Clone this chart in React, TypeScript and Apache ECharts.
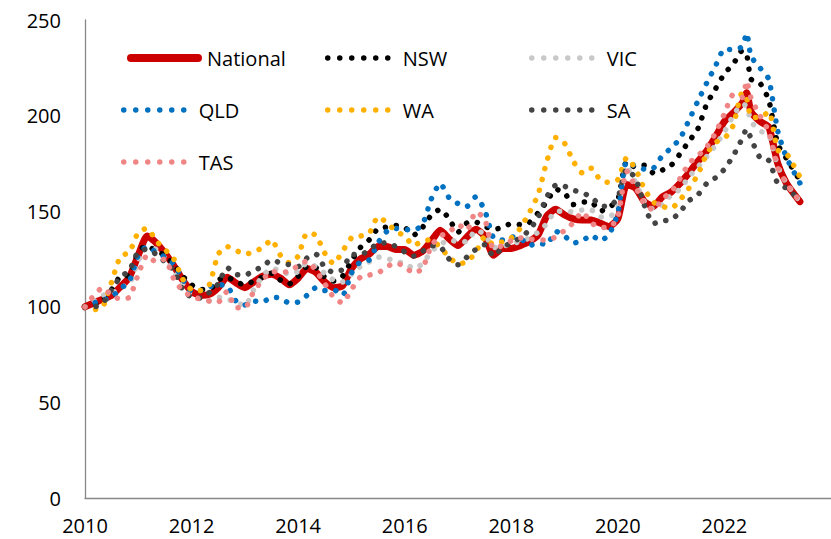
import React, { useEffect, useRef } from 'react';
import * as echarts from 'echarts';

// Observation dates (bi-monthly, plus June 2022 and June 2023)
const months: string[] = [
  '2010-01', '2010-03', '2010-05', '2010-07', '2010-09', '2010-11',
  '2011-01', '2011-03', '2011-05', '2011-07', '2011-09', '2011-11',
  '2012-01', '2012-03', '2012-05', '2012-07', '2012-09', '2012-11',
  '2013-01', '2013-03', '2013-05', '2013-07', '2013-09', '2013-11',
  '2014-01', '2014-03', '2014-05', '2014-07', '2014-09', '2014-11',
  '2015-01', '2015-03', '2015-05', '2015-07', '2015-09', '2015-11',
  '2016-01', '2016-03', '2016-05', '2016-07', '2016-09', '2016-11',
  '2017-01', '2017-03', '2017-05', '2017-07', '2017-09', '2017-11',
  '2018-01', '2018-03', '2018-05', '2018-07', '2018-09', '2018-11',
  '2019-01', '2019-03', '2019-05', '2019-07', '2019-09', '2019-11',
  '2020-01', '2020-03', '2020-05', '2020-07', '2020-09', '2020-11',
  '2021-01', '2021-03', '2021-05', '2021-07', '2021-09', '2021-11',
  '2022-01', '2022-03', '2022-05', '2022-06', '2022-07', '2022-09', '2022-11',
  '2023-01', '2023-03', '2023-06',
];

const national: number[] = [
  100, 102, 104, 106, 110.5, 115.5,
  127, 137, 133.5, 128, 121.5, 114,
  108, 106, 106.5, 110, 115.5, 112.5,
  110, 113, 116, 117, 115, 111.5,
  115, 120, 118, 113, 110, 111,
  120, 125, 127.5, 131.5, 131.5, 130,
  130, 127, 129, 134.5, 140, 135.5,
  132, 136.5, 140.5, 137, 127, 130.5,
  130.5, 132, 134, 137.5, 147.5, 151,
  148, 146, 145.4, 145.4, 143.8, 142,
  146, 164, 162, 155, 152.5, 157.5,
  160, 164.5, 170, 176, 181.5, 189,
  197, 201.5, 206.5, 212, 202, 197, 194,
  175, 164.5, 155,
];

const nsw: number[] = [
  100, 101, 104, 109, 116, 116.5,
  129, 132, 129, 127, 122, 116,
  111.5, 109, 109, 114, 115.5, 113,
  111.5, 113.5, 115.5, 117.5, 114, 112,
  116, 121, 120.5, 115.5, 113.5, 116,
  124, 131, 135, 141, 141.7, 142.5,
  141.5, 137.5, 141.5, 148, 151, 146,
  139, 143.8, 144.3, 142, 140.5, 141.5,
  143.5, 143, 144, 149, 155, 161.5,
  159.5, 153.5, 154.8, 154.8, 150, 152,
  156, 176, 173, 174, 170, 171.5,
  174, 180, 186.5, 193, 206, 214,
  222, 227, 234, 232, 219, 217, 208,
  185, 177.5, 166,
];

const vic: number[] = [
  100, 103, 106, 107, 110, 112,
  124, 131, 130, 125.5, 118, 112,
  106, 104, 103, 105, 104, 102.5,
  100.5, 109, 116, 120, 119, 117,
  118.5, 123, 121, 117.5, 114, 113,
  117, 121, 123.5, 126, 125.5, 123.4,
  123, 120, 122.5, 129, 132.5, 135,
  134, 134, 140, 138, 131, 131.5,
  133, 134, 136, 139, 143.5, 150,
  150, 149.6, 150.6, 150.6, 147, 147,
  152, 173, 165, 155, 151, 153.5,
  158.5, 161.5, 168, 173, 178.5, 184.5,
  191.5, 200, 206, 205, 197, 192, 190,
  173.5, 164.5, 155,
];

const qld: number[] = [
  100, 102, 103.5, 105, 109.5, 113.5,
  127, 131.5, 128.5, 126, 122.5, 114.5,
  108, 108.5, 110.5, 111.5, 111, 103,
  101, 103, 102.5, 105, 104.5, 102,
  102.5, 106, 110, 108.5, 109, 106,
  117.6, 123.5, 124.5, 133.5, 139.5, 141,
  140.5, 140, 143, 156.5, 164.5, 157,
  154, 152.5, 157.5, 150.6, 136, 135,
  136.5, 136, 132, 133.4, 132.5, 139.5,
  137, 133.4, 134.5, 137.5, 134.5, 137.8,
  149, 176, 173.5, 172, 172.5, 179,
  183, 188, 197.5, 207.5, 217, 226,
  234.8, 234.5, 236, 243, 231, 225, 219,
  192, 178, 164.7,
];

const wa: number[] = [
  100, 98.5, 100, 113, 126.5, 128.5,
  139, 141, 134.5, 130, 125, 114.5,
  109, 108.5, 111.5, 127.5, 131.5, 129.5,
  127.5, 128.7, 131, 135, 127, 123,
  126.5, 138.5, 137.5, 128, 122.5, 129,
  136, 137, 138.5, 147, 144, 139.5,
  137, 132, 134.5, 135, 131, 126,
  122.5, 123.5, 128.5, 136.5, 132.5, 134,
  136, 141, 149, 158.5, 176, 188.5,
  185.5, 176, 170, 172.5, 166.5, 165,
  166.5, 178, 172, 161.5, 154.8, 152.5,
  151.5, 155.9, 162, 169, 180, 186,
  188, 195, 212, 209, 199.3, 199, 202,
  182, 180, 168,
];

const sa: number[] = [
  100, 100, 102, 109, 115.6, 119,
  129, 130, 127.5, 123.5, 119, 109,
  105, 104.6, 107.5, 112, 120.5, 117,
  116.5, 119, 121, 124.5, 123, 122,
  121, 125.5, 127.5, 120.5, 118, 119.5,
  127.5, 127, 130, 133, 133.5, 131.5,
  128.7, 126.5, 129, 132, 131.5, 125,
  122, 126, 130, 132.5, 126.5, 131,
  133.5, 136, 140, 146.5, 157.5, 163.5,
  163, 161, 159.5, 157.5, 153, 152.5,
  157, 172, 167, 153, 143.5, 145,
  145.5, 149.6, 155.5, 158.5, 164.5, 167.5,
  172, 179, 188, 193, 188, 178, 176.5,
  164.5, 162, 155.9,
];

const tas: number[] = [
  100, 106, 110, 106, 104, 105,
  117, 127, 123.4, 125, 114.5, 108.5,
  105.5, 104, 103, 102.5, 108, 99.5,
  99.5, 108, 114, 118.5, 118, 118.5,
  121.5, 124, 119, 112, 105, 102,
  109, 115.5, 116.6, 117.7, 121, 123,
  121, 117.7, 120, 132, 137, 139,
  143, 140, 149.6, 146, 130.5, 132,
  134.5, 136, 135.5, 135, 135, 136.5,
  140, 144, 149.5, 144, 141.5, 141.5,
  147, 171, 162.5, 154, 150.6, 156.5,
  160, 167, 175, 179, 183.5, 191,
  201, 211, 209.5, 218, 209, 200, 191.5,
  173, 164.5, 155,
];

const seriesNames = ['National', 'NSW', 'VIC', 'QLD', 'WA', 'SA', 'TAS'];
const seriesValues = [national, nsw, vic, qld, wa, sa, tas];
const seriesColors = ['#CC0000', '#000000', '#C8C8C8', '#0070C0', '#FFB000', '#444444', '#F08585'];

// legend placement (column index, row index) per series
const legendCells: [number, number][] = [
  [0, 0], [1, 0], [2, 0],
  [0, 1], [1, 1], [2, 1],
  [0, 2],
];

const FONT = "'Open Sans', 'Liberation Sans', sans-serif";

function toYear(m: string): number {
  const [y, mo] = m.split('-').map(Number);
  return y + (mo - 1) / 12;
}

function dotsPath(count: number, r: number, step: number): string {
  let d = 'path://';
  for (let i = 0; i < count; i++) {
    const cx = r + step * i;
    d += `M${cx - r},${r}A${r},${r},0,1,0,${cx + r},${r}A${r},${r},0,1,0,${cx - r},${r}Z`;
  }
  return d;
}

const CAPSULE = 'path://M4,0L71,0A4,4,0,0,1,71,8L4,8A4,4,0,0,1,4,0Z';

export default function App() {
  const ref = useRef<HTMLDivElement>(null);

  useEffect(() => {
    if (!ref.current) return;
    const chart = echarts.init(ref.current, null, { renderer: 'svg' });

    const colX = [0, 204, 408];
    const rowY = [58, 110, 162];
    const dotR = 2.75;
    const dotStep = 12;
    const dotIcon = dotsPath(6, dotR, dotStep);

    const legends = seriesNames.map((name, i) => {
      const [c, r] = legendCells[i];
      const isMain = i === 0;
      return {
        data: [name],
        left: isMain ? 127 + colX[c] : 121 + colX[c],
        top: rowY[r] - 10,
        padding: 0,
        orient: 'horizontal',
        selectedMode: false,
        icon: isMain ? CAPSULE : dotIcon,
        itemWidth: isMain ? 75 : 80,
        itemHeight: isMain ? 8 : dotR * 2,
        symbolKeepAspect: true,
        itemStyle: { color: seriesColors[i], borderWidth: 0 },
        textStyle: { fontFamily: FONT, fontSize: 20, color: '#000', lineHeight: 20 },
      };
    });

    const series = seriesNames.map((name, i) => {
      const isMain = i === 0;
      return {
        name,
        type: 'line',
        data: months.map((m, k) => [toYear(m), seriesValues[i][k]]),
        showSymbol: false,
        symbol: 'none',
        smooth: 0.2,
        color: seriesColors[i],
        itemStyle: { color: seriesColors[i] },
        lineStyle: isMain
          ? { color: seriesColors[i], width: 7, type: 'solid', cap: 'round', join: 'round' }
          : { color: seriesColors[i], width: 5.5, type: [0.1, 11], cap: 'round', join: 'round' },
        z: 2,
        emphasis: { disabled: true },
      };
    });

    chart.setOption({
      animation: false,
      backgroundColor: '#ffffff',
      grid: { left: 85, right: 0, top: 20, bottom: 41, containLabel: false },
      xAxis: {
        type: 'value',
        min: 2010,
        max: 2024,
        interval: 2,
        axisLine: { show: true, lineStyle: { color: '#878787', width: 1.3 } },
        axisTick: { show: false },
        splitLine: { show: false },
        axisLabel: {
          margin: 19,
          fontSize: 20,
          lineHeight: 16,
          color: '#000',
          fontFamily: FONT,
          showMaxLabel: false,
          formatter: (v: number) => String(v),
        },
      },
      yAxis: {
        type: 'value',
        min: 0,
        max: 250,
        interval: 50,
        axisLine: { show: true, lineStyle: { color: '#878787', width: 1.3 } },
        axisTick: { show: false },
        splitLine: { show: false },
        axisLabel: { margin: 24, fontSize: 20, color: '#000', fontFamily: FONT },
      },
      legend: legends,
      series,
    });

    return () => chart.dispose();
  }, []);

  return (
    <div
      ref={ref}
      style={{ position: 'absolute', left: 0, top: 0, width: 831, height: 539, background: '#fff' }}
    />
  );
}
